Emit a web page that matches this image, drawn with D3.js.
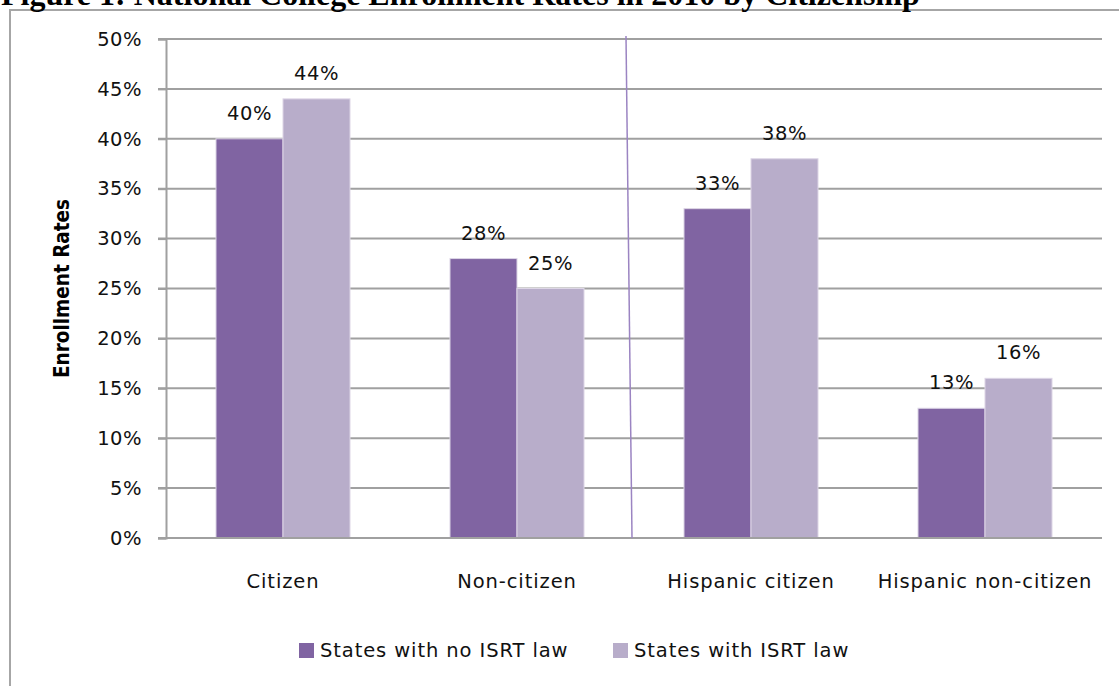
<!DOCTYPE html>
<html>
<head>
<meta charset="utf-8">
<script src="https://cdn.jsdelivr.net/npm/d3@7"></script>
<style>
  body { margin: 0; background: #fff; }
  svg { display: block; }
  .tick text { font-family: "DejaVu Sans", sans-serif; font-size: 19.5px; fill: #111; letter-spacing: 0.5px; }
  .gx .tick text { letter-spacing: 0.9px; }
</style>
</head>
<body>
<svg id="chart" width="1119" height="686"></svg>
<script>
var CATEGORIES = ["Citizen", "Non-citizen", "Hispanic citizen", "Hispanic non-citizen"];
var SERIES = ["States with no ISRT law", "States with ISRT law"];
var NO_LAW = [40, 28, 33, 13];
var WITH_LAW = [44, 25, 38, 16];
var Y_TICKS = [0, 5, 10, 15, 20, 25, 30, 35, 40, 45, 50];
var TITLE = "Figure 1: National College Enrollment Rates in 2010 by Citizenship";
var Y_LABEL = "Enrollment Rates";

var COLORS = ["#8064a2", "#b8adca"];
var GRID = "#a0a0a0";

var margin = { left: 166, right: 17, top: 39, bottom: 148 };
var width = 1119, height = 686;

var svg = d3.select("#chart");

// outer frame (right and bottom run off the picture)
svg.append("rect")
    .attr("x", 10).attr("y", 10)
    .attr("width", 1200).attr("height", 800)
    .attr("fill", "none").attr("stroke", "#a6a6a6").attr("stroke-width", 2);

// title, cut off by the top edge like the scan
svg.append("text")
    .attr("x", 1).attr("y", 5)
    .attr("font-family", "Liberation Serif, serif")
    .attr("font-weight", "bold")
    .attr("font-size", 32)
    .attr("fill", "#000")
    .text(TITLE);

var x0 = d3.scaleBand().domain(CATEGORIES)
    .range([margin.left, width - margin.right]);
var x1 = d3.scaleBand().domain(SERIES)
    .range([0, x0.bandwidth()])
    .paddingOuter(0.746);
var y = d3.scaleLinear().domain([0, 50])
    .range([height - margin.bottom, margin.top]);

// gridlines
svg.append("g").selectAll("line").data(Y_TICKS).enter().append("line")
    .attr("x1", margin.left - 8).attr("x2", width - margin.right)
    .attr("y1", function (d) { return y(d); })
    .attr("y2", function (d) { return y(d); })
    .attr("stroke", GRID).attr("stroke-width", 2);

var yAxis = d3.axisLeft(y).tickValues(Y_TICKS)
    .tickFormat(function (d) { return d + "%"; })
    .tickSize(8).tickPadding(16);
var gy = svg.append("g")
    .attr("transform", "translate(" + margin.left + ",0)")
    .call(yAxis);
gy.select(".domain").attr("stroke", GRID).attr("stroke-width", 2);
gy.selectAll(".tick line").attr("stroke", GRID).attr("stroke-width", 2);

var rows = CATEGORIES.map(function (c, i) {
    return { cat: c, values: [NO_LAW[i], WITH_LAW[i]] };
});

var groups = svg.append("g").selectAll("g").data(rows).enter().append("g")
    .attr("transform", function (d) { return "translate(" + x0(d.cat) + ",0)"; });

groups.selectAll("rect").data(function (d) {
    return d.values.map(function (v, j) { return { s: SERIES[j], v: v, j: j }; });
}).enter().append("rect")
    .attr("x", function (d) { return x1(d.s); })
    .attr("width", x1.bandwidth())
    .attr("y", function (d) { return y(d.v); })
    .attr("height", function (d) { return y(0) - y(d.v); })
    .attr("fill", function (d) { return COLORS[d.j]; })
    .attr("stroke", "#ddd6e6").attr("stroke-width", 1);

groups.selectAll("text").data(function (d) {
    return d.values.map(function (v, j) { return { s: SERIES[j], v: v }; });
}).enter().append("text")
    .attr("x", function (d) { return x1(d.s) + x1.bandwidth() / 2; })
    .attr("y", function (d) { return y(d.v) - 19; })
    .attr("text-anchor", "middle")
    .attr("font-family", "DejaVu Sans, sans-serif")
    .attr("font-size", 19.5)
    .attr("letter-spacing", 0.6)
    .attr("fill", "#111")
    .text(function (d) { return d.v + "%"; });

// baseline
svg.append("line")
    .attr("x1", margin.left).attr("x2", width - margin.right)
    .attr("y1", y(0)).attr("y2", y(0))
    .attr("stroke", GRID).attr("stroke-width", 2);

// category labels
var xAxis = d3.axisBottom(x0).tickSize(0).tickPadding(36);
var gx = svg.append("g")
    .attr("class", "gx")
    .attr("transform", "translate(0," + y(0) + ")")
    .call(xAxis);
gx.select(".domain").remove();

// divider between the all-students and Hispanic groups
var split = x0(CATEGORIES[2]);
svg.append("line")
    .attr("x1", split - 8).attr("y1", margin.top - 3)
    .attr("x2", split - 2).attr("y2", y(0))
    .attr("stroke", "#9b84c2").attr("stroke-width", 1.5);

// y axis title
svg.append("text")
    .attr("transform", "translate(69," + ((y(0) + y(50)) / 2) + ") rotate(-90)")
    .attr("text-anchor", "middle")
    .attr("font-family", "DejaVu Sans Condensed, DejaVu Sans, sans-serif")
    .attr("font-stretch", "condensed")
    .attr("font-weight", "bold")
    .attr("font-size", 20.5)
    .attr("fill", "#000")
    .text(Y_LABEL);

// legend
var legendX = [299, 613];
var legend = svg.append("g").selectAll("g").data(SERIES).enter().append("g")
    .attr("transform", function (d, i) { return "translate(" + legendX[i] + ",643)"; });
legend.append("rect")
    .attr("width", 15).attr("height", 15)
    .attr("fill", function (d, i) { return COLORS[i]; });
legend.append("text")
    .attr("x", 21).attr("y", 14)
    .attr("font-family", "DejaVu Sans, sans-serif")
    .attr("font-size", 19.5)
    .attr("letter-spacing", 0.9)
    .attr("fill", "#111")
    .text(function (d) { return d; });
</script>
</body>
</html>
